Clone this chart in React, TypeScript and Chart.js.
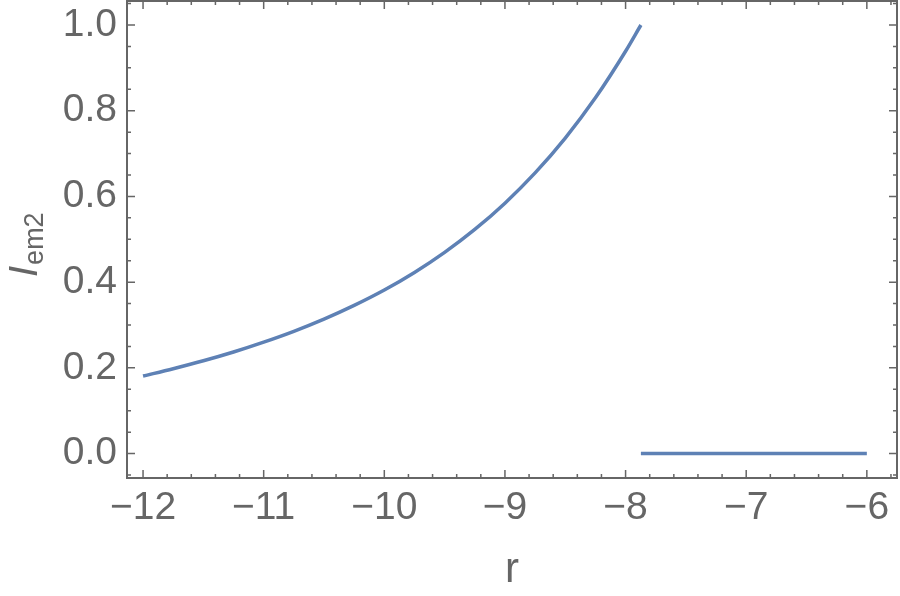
import React, { useEffect, useRef } from 'react';
import { Chart, registerables } from 'chart.js';

Chart.register(...registerables);

// Curve segment (r, I_em2)
const rValues = [-12, -11.75, -11.5, -11.25, -11, -10.75, -10.5, -10.25, -10, -9.75, -9.5, -9.25, -9, -8.75, -8.5, -8.25, -8, -7.873];
const iValues = [0.181, 0.198, 0.2165, 0.237, 0.26, 0.2853, 0.3137, 0.3457, 0.3816, 0.4226, 0.4694, 0.5229, 0.5843, 0.6549, 0.7362, 0.83, 0.9387, 1.0];

// Flat segment
const flatR = [-7.873, -6];
const flatI = [0, 0];

// Axis ticks
const xTicks = [-12, -11, -10, -9, -8, -7, -6];
const yTicks = [0, 0.2, 0.4, 0.6, 0.8, 1.0];
const xMinorStep = 0.2;
const yMinorStep = 0.05;

const X_MIN = -12.133;
const X_MAX = -5.75;
const Y_MIN = -0.057;
const Y_MAX = 1.056;

const LINE_COLOR = '#5E81B5';
const FRAME_COLOR = '#666666';
const TEXT_COLOR = '#666666';
const FONT = '"Liberation Sans", Arial, sans-serif';

const fmt = (v: number, digits: number) => {
  const s = Math.abs(v).toFixed(digits);
  return v < -1e-9 ? '\u2212' + s : s;
};

const framePlugin = {
  id: 'mmaFrame',
  afterDraw(chart: any) {
    const { ctx, chartArea, scales } = chart;
    const { left, right, top, bottom } = chartArea;
    const xs = scales.x;
    const ys = scales.y;
    ctx.save();
    ctx.strokeStyle = FRAME_COLOR;
    ctx.lineWidth = 1.5;
    // x ticks (bottom & top)
    for (let i = Math.ceil(X_MIN / xMinorStep); i * xMinorStep <= X_MAX; i++) {
      const v = i * xMinorStep;
      const major = Math.abs(v - Math.round(v)) < 1e-6;
      const len = major ? 8 : 4;
      const px = xs.getPixelForValue(v);
      ctx.beginPath();
      ctx.moveTo(px, bottom);
      ctx.lineTo(px, bottom - len);
      ctx.moveTo(px, top);
      ctx.lineTo(px, top + len);
      ctx.stroke();
    }
    // y ticks (left & right)
    for (let i = Math.ceil(Y_MIN / yMinorStep); i * yMinorStep <= Y_MAX; i++) {
      const v = i * yMinorStep;
      const major = Math.abs(v / 0.2 - Math.round(v / 0.2)) < 1e-6;
      const len = major ? 8 : 4;
      const py = ys.getPixelForValue(v);
      ctx.beginPath();
      ctx.moveTo(left, py);
      ctx.lineTo(left + len, py);
      ctx.moveTo(right, py);
      ctx.lineTo(right - len, py);
      ctx.stroke();
    }
    // frame
    ctx.lineWidth = 2;
    ctx.strokeRect(left, top, right - left, bottom - top);

    // axis titles
    ctx.fillStyle = TEXT_COLOR;
    ctx.textAlign = 'center';
    ctx.textBaseline = 'alphabetic';
    ctx.font = `42px ${FONT}`;
    ctx.fillText('r', (left + right) / 2, 582);

    ctx.translate(37, 277);
    ctx.rotate(-Math.PI / 2);
    ctx.textAlign = 'left';
    ctx.font = `italic 40px ${FONT}`;
    ctx.fillText('I', 0, 0);
    const wI = ctx.measureText('I').width;
    ctx.font = `27px ${FONT}`;
    ctx.fillText('em2', wI + 1, 6);
    ctx.restore();
  },
};

export default function App() {
  const canvasRef = useRef<HTMLCanvasElement | null>(null);

  useEffect(() => {
    document.body.style.margin = '0';
    const canvas = canvasRef.current;
    if (!canvas) return;
    const chart = new Chart(canvas, {
      type: 'line',
      data: {
        datasets: [
          {
            data: rValues.map((r, i) => ({ x: r, y: iValues[i] })),
            borderColor: LINE_COLOR,
            borderWidth: 3.5,
            pointRadius: 0,
            fill: false,
            cubicInterpolationMode: 'monotone',
          },
          {
            data: flatR.map((r, i) => ({ x: r, y: flatI[i] })),
            borderColor: LINE_COLOR,
            borderWidth: 3.5,
            pointRadius: 0,
            fill: false,
          },
        ],
      },
      options: {
        animation: false,
        responsive: false,
        maintainAspectRatio: false,
        events: [],
        layout: { padding: { top: 1, right: 3, left: 0, bottom: 0 } },
        plugins: {
          legend: { display: false },
          tooltip: { enabled: false },
          title: { display: false },
        },
        scales: {
          x: {
            type: 'linear',
            min: X_MIN,
            max: X_MAX,
            grid: { display: false, drawTicks: false },
            border: { display: false },
            afterBuildTicks: (scale: any) => {
              scale.ticks = xTicks.map((v) => ({ value: v }));
            },
            afterFit: (scale: any) => {
              scale.height = 118;
              scale.paddingLeft = 0;
              scale.paddingRight = 0;
            },
            ticks: {
              padding: 7,
              maxRotation: 0,
              autoSkip: false,
              color: TEXT_COLOR,
              font: { family: FONT, size: 39 },
              callback: (v: any) => fmt(Number(v), 0),
            },
          },
          y: {
            type: 'linear',
            min: Y_MIN,
            max: Y_MAX,
            grid: { display: false, drawTicks: false },
            border: { display: false },
            afterBuildTicks: (scale: any) => {
              scale.ticks = yTicks.map((v) => ({ value: v }));
            },
            afterFit: (scale: any) => {
              scale.width = 127;
              scale.paddingTop = 0;
              scale.paddingBottom = 0;
            },
            ticks: {
              padding: 10,
              autoSkip: false,
              color: TEXT_COLOR,
              font: { family: FONT, size: 39 },
              callback: (v: any) => fmt(Number(v), 1),
            },
          },
        },
      },
      plugins: [framePlugin],
    } as any);
    return () => chart.destroy();
  }, []);

  return (
    <div style={{ position: 'absolute', left: 0, top: 0, width: 900, height: 596, background: '#fff' }}>
      <canvas ref={canvasRef} width={900} height={596} style={{ display: 'block', width: 900, height: 596 }} />
    </div>
  );
}
